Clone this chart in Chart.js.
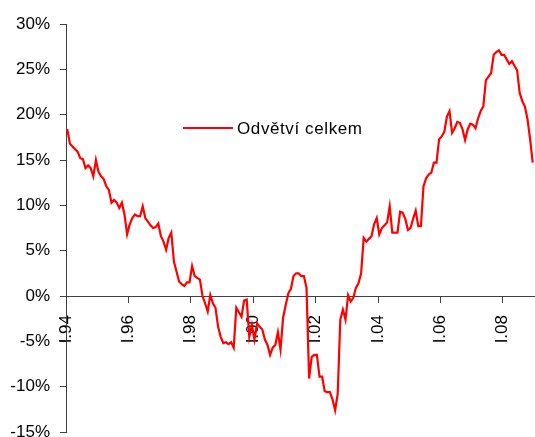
<!DOCTYPE html>
<html>
<head>
<meta charset="utf-8">
<script src="https://cdn.jsdelivr.net/npm/chart.js@4.4.1/dist/chart.umd.min.js"></script>
<style>
  body { margin: 0; background: #fff; }
  #wrap { width: 535px; height: 437px; }
</style>
</head>
<body>
<div id="wrap"><canvas id="chart"></canvas></div>
<script>
// monthly growth, I.94 .. XII.08 (%)
const seriesName = "Odvětví celkem";
const tickLabels = ["I.94", "I.96", "I.98", "I.00", "I.02", "I.04", "I.06", "I.08"];
const monthsPerTick = 24;
const monthlyValues = [
  18.4, 16.8, 16.5, 16.2, 15.9, 15.2, 15.1, 14.1, 14.4, 14.1,
  13.2, 15.0, 13.7, 13.2, 12.9, 12.1, 11.7, 10.3, 10.6, 10.3,
  9.7, 10.3, 9.0, 6.8, 7.9, 8.6, 9.0, 8.8, 8.8, 9.9,
  8.6, 8.2, 7.8, 7.5, 7.6, 8.0, 6.6, 6.0, 5.1, 6.4,
  7.0, 3.8, 2.7, 1.6, 1.3, 1.1, 1.5, 1.5, 3.3, 2.2,
  2.0, 1.8, 0.0, -0.8, -1.7, 0.1, -0.8, -1.3, -3.4, -4.5,
  -5.2, -5.1, -5.3, -5.1, -5.7, -1.3, -1.8, -2.3, -0.5, -0.4,
  -4.5, -3.2, -4.8, -3.0, -3.4, -3.7, -4.8, -5.4, -6.5, -5.7,
  -5.4, -4.0, -5.9, -2.4, -1.0, 0.3, 0.8, 2.2, 2.5, 2.5,
  2.2, 2.2, 0.9, -9.1, -6.7, -6.5, -6.5, -8.9, -8.9, -10.5,
  -10.6, -10.6, -11.4, -12.6, -10.8, -2.6, -1.5, -2.6, 0.1, -0.6,
  -0.2, 0.9, 1.4, 2.5, 6.4, 6.0, 6.3, 6.6, 7.9, 8.6,
  6.8, 7.5, 7.8, 8.1, 9.9, 7.0, 7.0, 7.0, 9.3, 9.2,
  8.5, 7.3, 7.5, 8.5, 9.4, 7.7, 7.7, 12.1, 13.0, 13.4,
  13.6, 14.7, 14.7, 17.3, 17.6, 18.1, 19.8, 20.4, 18.0, 18.5,
  19.2, 19.1, 18.4, 17.2, 18.4, 19.0, 18.9, 18.5, 19.6, 20.4,
  20.9, 23.8, 24.2, 24.6, 26.6, 26.9, 27.1, 26.6, 26.6, 26.1,
  25.6, 25.9, 25.4, 24.9, 22.4, 21.5, 20.9, 19.5, 17.3, 14.7
];

const axisColor = "#404040";
const font = { family: "'Liberation Sans', Arial, sans-serif", size: 17 };

// legend sits inside the plot, so draw it by hand
const innerLegend = {
  id: "innerLegend",
  afterDraw(chart) {
    const ctx = chart.ctx;
    const ds = chart.data.datasets[0];
    const x = chart.chartArea.left + 117;
    const y = chart.chartArea.top + 104;
    ctx.save();
    ctx.strokeStyle = ds.borderColor;
    ctx.lineWidth = 2;
    ctx.beginPath();
    ctx.moveTo(x, y);
    ctx.lineTo(x + 50, y);
    ctx.stroke();
    ctx.fillStyle = "#000";
    ctx.font = font.size + "px " + font.family;
    ctx.letterSpacing = "0.6px";
    ctx.textBaseline = "middle";
    ctx.fillText(ds.label, x + 54, y + 1);
    ctx.restore();
  }
};

new Chart(document.getElementById("chart"), {
  type: "line",
  data: {
    datasets: [
      {
        label: seriesName,
        data: monthlyValues.map((v, i) => ({ x: i + 0.5, y: v })),
        borderColor: "#ff0000",
        borderWidth: 2.2,
        pointRadius: 0,
        tension: 0,
      },
    ],
  },
  options: {
    responsive: true,
    maintainAspectRatio: false,
    animation: false,
    layout: { padding: { top: 24, bottom: 5, left: 0, right: 1 } },
    plugins: {
      legend: { display: false },
      tooltip: { enabled: false },
    },
    scales: {
      x: {
        type: "linear",
        position: { y: 0 },
        min: 0,
        max: monthlyValues.length,
        afterBuildTicks: (scale) => {
          scale.ticks = tickLabels.map((_, k) => ({ value: k * monthsPerTick }));
        },
        afterFit: (scale) => {
          scale.height = 0;
          scale.paddingLeft = 0;
          scale.paddingRight = 0;
        },
        ticks: {
          autoSkip: false,
          minRotation: 90,
          maxRotation: 90,
          padding: 13,
          color: "#000",
          font: font,
          callback: (value) => tickLabels[Math.round(value / monthsPerTick)],
        },
        grid: {
          drawOnChartArea: false,
          drawTicks: true,
          tickLength: 6,
          color: axisColor,
        },
        border: { color: axisColor, width: 1 },
      },
      y: {
        min: -15,
        max: 30,
        afterFit: (scale) => {
          scale.width = 66;
          scale.paddingTop = 0;
          scale.paddingBottom = 0;
        },
        ticks: {
          stepSize: 5,
          padding: 10,
          color: "#000",
          font: font,
          callback: (value) => value + "%",
        },
        grid: {
          drawOnChartArea: false,
          drawTicks: true,
          tickLength: 6,
          color: axisColor,
        },
        border: { color: axisColor, width: 1 },
      },
    },
  },
  plugins: [innerLegend],
});
</script>
</body>
</html>
